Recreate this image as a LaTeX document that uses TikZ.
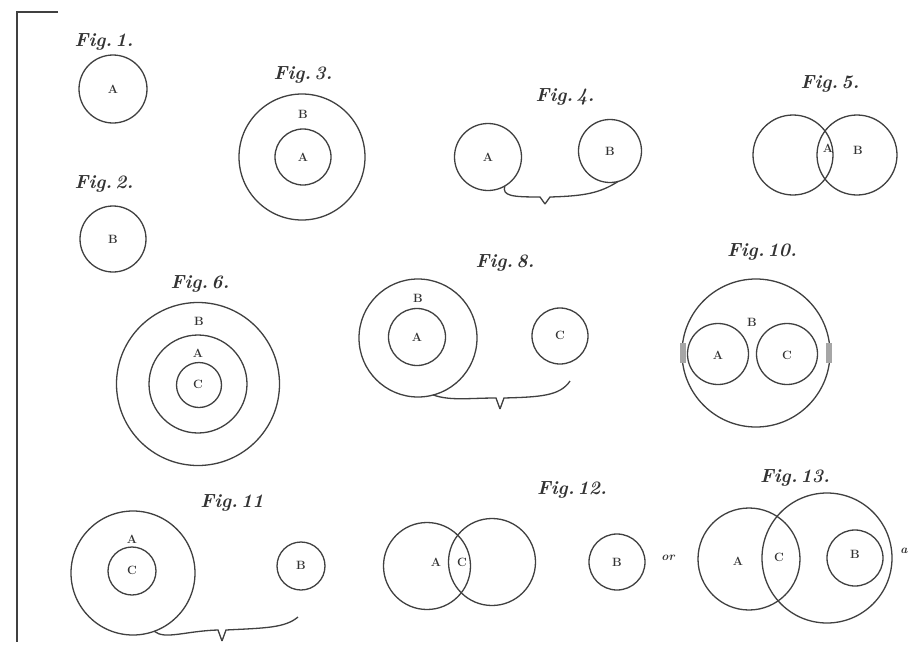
\documentclass[tikz,border=0pt]{standalone}
\begin{document}
\begin{tikzpicture}[x=1pt,y=-1pt,
  ink/.style={draw=black!75,line width=1.3pt},
  circ/.style={ink,circle,inner sep=0pt,outer sep=0pt},
  lett/.style={font=\fontsize{12}{13}\selectfont\bfseries,text=black!80,inner sep=0pt},
  figlab/.style={font=\fontsize{19}{20}\selectfont\bfseries\itshape,text=black!80,inner sep=0pt},
  brace/.style={draw=black!75,line width=1.3pt}]
\useasboundingbox (0,0) rectangle (911,651);
\fill[white] (0,0) rectangle (911,651);
% frame
\coordinate (fa) at (58,12);
\coordinate (fb) at (17,12);
\coordinate (fc) at (17,642);
\draw[draw=black!75,line width=1.8pt] (fa) -- (fb) -- (fc);

% Fig 1
\node[figlab] (l1) at (104,42) {Fig.\,1.};
\node[circ,minimum size=68pt] (c1) at (113,89) {};
\node[lett] (t1) at (113,89) {A};
% Fig 2
\node[figlab] (l2) at (104,184) {Fig.\,2.};
\node[circ,minimum size=66pt] (c2) at (113,239) {};
\node[lett] (t2) at (113,239) {B};
% Fig 3
\node[figlab] (l3) at (303,75) {Fig.\,3.};
\node[circ,minimum size=126pt] (c3o) at (302,157) {};
\node[circ,minimum size=56pt] (c3i) at (303,157) {};
\node[lett] (t3b) at (303,114) {B};
\node[lett] (t3a) at (303,157) {A};
% Fig 4
\node[figlab] (l4) at (565,97) {Fig.\,4.};
\node[circ,minimum size=67pt] (c4a) at (488,157) {};
\node[circ,minimum size=63pt] (c4b) at (610,151) {};
\node[lett] (t4a) at (488,157) {A};
\node[lett] (t4b) at (610,151) {B};
\coordinate (b4t) at (545,204);
\draw[brace] (c4a.-60) .. controls (502,196) and (512,197) .. (540,197) -- (b4t);
\draw[brace] (b4t) -- (550,197) .. controls (585,196) and (600,193) .. (c4b.-75);
% Fig 5
\node[figlab] (l5) at (830,84) {Fig.\,5.};
\node[circ,minimum size=80pt] (c5a) at (793,155) {};
\node[circ,minimum size=80pt] (c5b) at (857,155) {};
\node[lett] (t5a) at (828,148) {A};
\node[lett] (t5b) at (858,150) {B};
% Fig 6
\node[figlab] (l6) at (200,284) {Fig.\,6.};
\node[circ,minimum size=163pt] (c6o) at (198,384) {};
\node[circ,minimum size=98pt] (c6m) at (198,384) {};
\node[circ,minimum size=45pt] (c6i) at (199,385) {};
\node[lett] (t6b) at (199,321) {B};
\node[lett] (t6a) at (198,353) {A};
\node[lett] (t6c) at (198,384) {C};
% Fig 8
\node[figlab] (l8) at (505,263) {Fig.\,8.};
\node[circ,minimum size=118pt] (c8o) at (418,338) {};
\node[circ,minimum size=57pt] (c8i) at (417,337) {};
\node[circ,minimum size=56pt] (c8c) at (560,336) {};
\node[lett] (t8b) at (418,298) {B};
\node[lett] (t8a) at (417,337) {A};
\node[lett] (t8c) at (560,335) {C};
\coordinate (b8t) at (500,409);
\coordinate (b8e) at (570,381);
\draw[brace] (c8o.-75) .. controls (450,401) and (470,398) .. (496,398) -- (b8t);
\draw[brace] (b8t) -- (504,398) .. controls (540,397) and (560,396) .. (b8e);
% Fig 10
\node[figlab] (l10) at (762,252) {Fig.\,10.};
\node[circ,minimum size=148pt] (c10o) at (756,353) {};
\node[circ,minimum size=61pt] (c10a) at (718,354) {};
\node[circ,minimum size=61pt] (c10c) at (787,354) {};
\node[lett] (t10a) at (718,355) {A};
\node[lett] (t10c) at (787,355) {C};
\node[lett] (t10b) at (752,322) {B};
\fill[black!35] (680,343) rectangle (686,363);
\fill[black!35] (826,343) rectangle (832,363);
% Fig 11
\node[figlab] (l11) at (232,503) {Fig.\,11};
\node[circ,minimum size=124pt] (c11o) at (133,573) {};
\node[circ,minimum size=48pt] (c11i) at (132,571) {};
\node[circ,minimum size=48pt] (c11b) at (301,566) {};
\node[lett] (t11a) at (132,539) {A};
\node[lett] (t11c) at (132,570) {C};
\node[lett] (t11b) at (301,565) {B};
\coordinate (b11t) at (222,641);
\coordinate (b11e) at (298,617);
\draw[brace] (c11o.-70) .. controls (165,640) and (185,631) .. (218,630) -- (b11t);
\draw[brace] (b11t) -- (226,630) .. controls (265,628) and (285,628) .. (b11e);
% Fig 12
\node[figlab] (l12) at (572,490) {Fig.\,12.};
\node[circ,minimum size=87pt] (c12a) at (427,566) {};
\node[circ,minimum size=87pt] (c12c) at (492,562) {};
\node[lett] (t12a) at (436,562) {A};
\node[lett] (t12c) at (462,562) {C};
\node[circ,minimum size=56pt] (c12b) at (617,562) {};
\node[lett] (t12b) at (617,562) {B};
\node[lett,font=\fontsize{12}{13}\selectfont\bfseries\itshape] (or) at (668,558) {or};
% Fig 13
\node[figlab] (l13) at (795,478) {Fig.\,13.};
\node[circ,minimum size=102pt] (c13a) at (749,559) {};
\node[circ,minimum size=130pt] (c13o) at (827,558) {};
\node[circ,minimum size=56pt] (c13b) at (855,558) {};
\node[lett] (t13a) at (738,561) {A};
\node[lett] (t13c) at (779,557) {C};
\node[lett] (t13b) at (855,554) {B};
\node[lett,font=\fontsize{12}{13}\selectfont\bfseries\itshape] (t13x) at (904,551) {a};
\end{tikzpicture}
\end{document}
